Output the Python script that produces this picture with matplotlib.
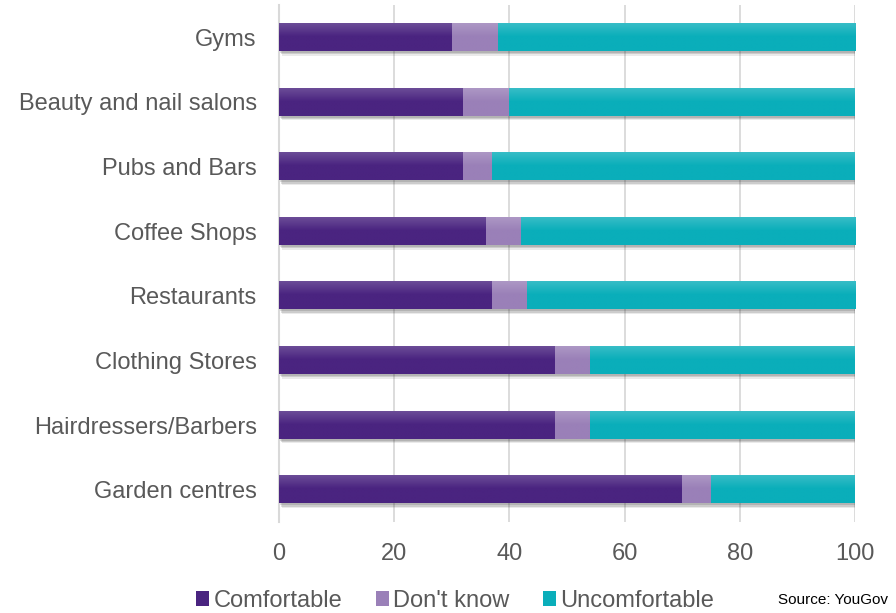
import matplotlib
matplotlib.use("Agg")
import numpy as np
import matplotlib.pyplot as plt
import matplotlib.patheffects as pe
from matplotlib.patches import Patch
from matplotlib.colors import LinearSegmentedColormap, to_rgb

categories = ["Gyms", "Beauty and nail salons", "Pubs and Bars", "Coffee Shops",
              "Restaurants", "Clothing Stores", "Hairdressers/Barbers", "Garden centres"]
comfortable = [30, 32, 32, 36, 37, 48, 48, 70]
dont_know = [8, 8, 5, 6, 6, 6, 6, 5]
uncomfortable = [62, 60, 63, 58, 57, 46, 46, 25]
series_names = ["Comfortable", "Don't know", "Uncomfortable"]
xticks = [0, 20, 40, 60, 80, 100]

colors = ["#4A2480", "#9A80B8", "#0AAEBA"]
text_color = "#595959"

plt.rcParams['font.family'] = ['Liberation Sans', 'DejaVu Sans']

fig = plt.figure(figsize=(8.96, 6.13), dpi=100)
ax = fig.add_axes([279/896, (613-522)/613, (855-279)/896, (522-5)/613])

ypos = list(range(len(categories)))
shadow = [pe.SimplePatchShadow(offset=(1, -1.5), alpha=0.16, shadow_rgbFace="#333333"),
          pe.SimplePatchShadow(offset=(1.5, -2.5), alpha=0.16, shadow_rgbFace="#333333"),
          pe.SimplePatchShadow(offset=(2, -3.5), alpha=0.10, shadow_rgbFace="#333333"),
          pe.Normal()]

def lighten(c, f):
    r, g, b = to_rgb(c)
    return (r + (1 - r) * f, g + (1 - g) * f, b + (1 - b) * f)

grad = np.concatenate([np.linspace(1, 0, 12), np.zeros(12)]).reshape(-1, 1)

left = [0]*len(categories)
for vals, c, name in zip([comfortable, dont_know, uncomfortable], colors, series_names):
    bars = ax.barh(ypos, vals, left=left, height=0.42, color=c, label=name, zorder=3)
    cmap = LinearSegmentedColormap.from_list("g", [c, lighten(c, 0.18)])
    for b in bars:
        b.set_path_effects(shadow)
        x0, y0 = b.get_x(), b.get_y()
        ax.imshow(grad, cmap=cmap, vmin=0, vmax=1, aspect='auto', interpolation='bilinear',
                  extent=[x0, x0 + b.get_width(), y0 + b.get_height(), y0], zorder=4)
    left = [l + v for l, v in zip(left, vals)]

ax.set_xlim(0, 100)
ax.set_ylim(len(categories) - 0.5, -0.5)
ax.set_aspect('auto')
ax.set_yticks(ypos)
ax.set_yticklabels(categories)
ax.set_xticks(xticks)
ax.set_xticklabels([str(t) for t in xticks])
ax.tick_params(axis='both', length=0, colors=text_color, labelsize=17)
ax.tick_params(axis='y', pad=16)
ax.tick_params(axis='x', pad=15)
ax.grid(axis='x', color="#D9D9D9", linewidth=1.3, zorder=0)
for s in ["top", "right", "bottom"]:
    ax.spines[s].set_visible(False)
ax.spines["left"].set_color("#D9D9D9")
ax.spines["left"].set_linewidth(1.5)

handles = [Patch(facecolor=c, label=n) for c, n in zip(colors, series_names)]
fig.legend(handles=handles, loc="center", bbox_to_anchor=(0.508, 0.02), ncol=3, frameon=False,
           fontsize=17, handlelength=0.55, handleheight=0.55, handletextpad=0.2, columnspacing=1.4,
           labelcolor=text_color, borderaxespad=0)
fig.text(0.991, 0.021, "Source: YouGov", ha="right", va="center", fontsize=11, color="black")

fig.savefig("out.png", dpi=100)
